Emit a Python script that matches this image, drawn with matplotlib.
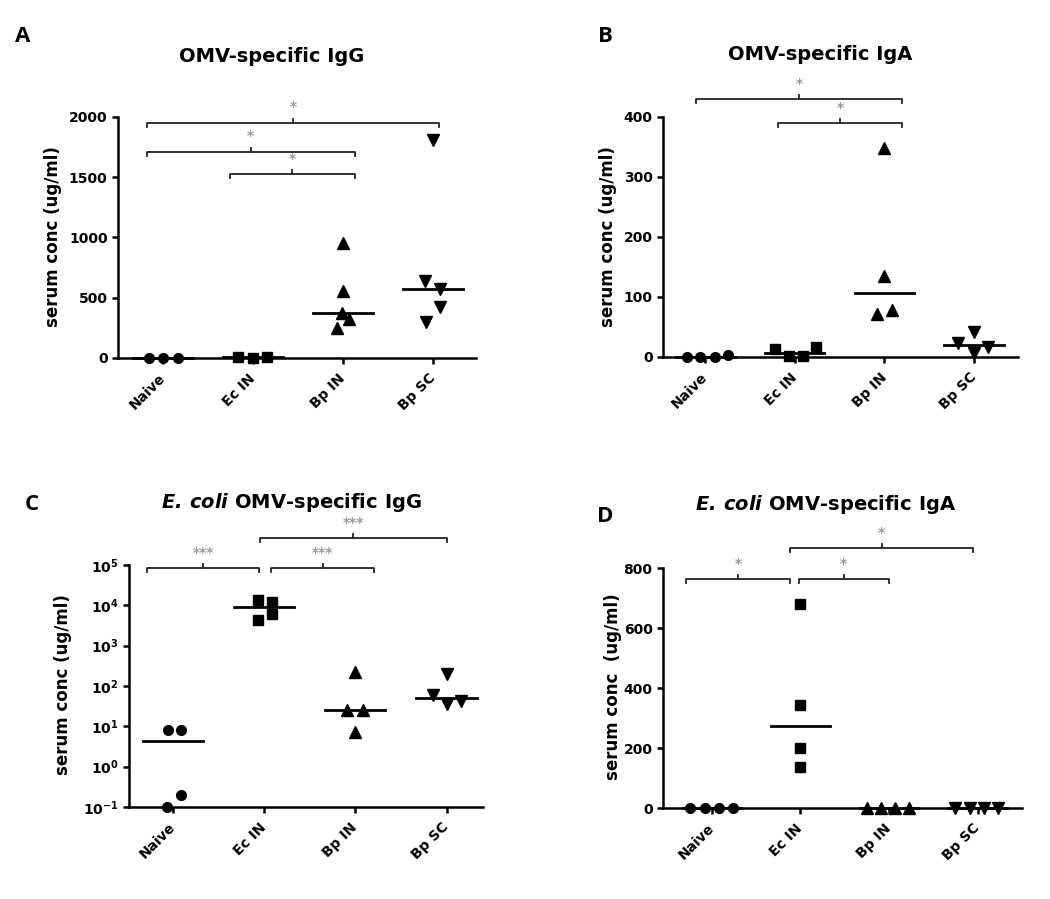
import numpy as np
import matplotlib
matplotlib.use("Agg")
import matplotlib.pyplot as plt
from matplotlib.transforms import blended_transform_factory

plt.rcParams['font.family'] = ['DejaVu Sans']
plt.rcParams['font.weight'] = 'bold'
plt.rcParams['mathtext.fontset'] = 'dejavusans'

groups = ['Naive', 'Ec IN', 'Bp IN', 'Bp SC']
markers = ['o', 's', '^', 'v']

# A - OMV-specific IgG (ug/ml)
igg_naive = [0, 0, 0]
igg_ecin = [8, 3, 10]
igg_bpin = [954, 556, 371, 324, 249]
igg_bpsc = [1809, 640, 570, 420, 300]

# B - OMV-specific IgA
iga_naive = [0, 0, 0, 3]
iga_ecin = [14, 1, 1, 17]
iga_bpin = [349, 135, 71, 79]
iga_bpsc = [42, 23, 7, 17]

# C - E. coli OMV-specific IgG (log)
ec_igg_naive = [8.3, 8.3, 0.2, 0.1]
ec_igg_ecin = [13500, 4300, 12000, 6000]
ec_igg_bpin = [222, 25, 26, 7.2]
ec_igg_bpsc = [202, 58.7, 36.5, 42.5]

# D - E. coli OMV-specific IgA
ec_iga_naive = [0, 0, 0, 0]
ec_iga_ecin = [679, 344, 201, 137]
ec_iga_bpin = [0, 0, 0, 0]
ec_iga_bpsc = [0, 0, 0, 0]

# horizontal spread of the dots inside each column (layout only)
spread_a = [[-0.16, 0, 0.17], [-0.17, 0, 0.16], [0, 0, -0.01, 0.07, -0.07], [0, -0.09, 0.08, 0.08, -0.08]]
spread_b = [[-0.2, -0.06, 0.11, 0.26], [-0.22, -0.06, 0.09, 0.24], [0, 0, -0.08, 0.09], [0, -0.18, 0, 0.15]]
spread_c = [[-0.05, 0.09, 0.09, -0.06], [-0.07, -0.07, 0.09, 0.09], [0, -0.09, 0.08, 0], [0, -0.15, 0, 0.16]]
spread_d = [[-0.24, -0.08, 0.08, 0.24], [0, 0, 0, 0], [-0.25, -0.09, 0.07, 0.22], [-0.26, -0.09, 0.07, 0.23]]

W, H = 1050, 899
fig = plt.figure(figsize=(W / 100, H / 100), dpi=100)


def add_ax(x0, x1, y0, y1):
    return fig.add_axes([x0 / W, 1 - y1 / H, (x1 - x0) / W, (y1 - y0) / H])


def bracket(ax, x1, x2, yf, label, tip=0.017):
    tr = blended_transform_factory(ax.transData, ax.transAxes)
    xm = (x1 + x2) / 2
    ax.plot([x1, x1, x2, x2], [yf - tip, yf, yf, yf - tip], color='#222222', lw=1.3,
            transform=tr, clip_on=False, solid_joinstyle='round')
    ax.plot([xm, xm], [yf, yf + tip], color='#222222', lw=1.3, transform=tr, clip_on=False)
    ax.annotate(label, (xm, yf), xytext=(0, 6), textcoords='offset points', xycoords=tr,
                ha='center', va='bottom', color='#9a9a9a', fontsize=10)


def panel(ax, data, spread, xlim, sizes=(7, 7.5, 8, 8)):
    for i, vals in enumerate(data):
        xs = i + np.array(spread[i])
        ax.plot(xs, vals, ls='none', marker=markers[i], ms=sizes[i], color='black',
                clip_on=False, zorder=4)
        med = np.median(vals)
        ax.plot([i - 0.33, i + 0.33], [med, med], color='black', lw=2, clip_on=False, zorder=3)
    ax.set_xlim(*xlim)
    ax.set_xticks(range(len(groups)))
    ax.set_xticklabels(groups, rotation=45, ha='right', va='center', rotation_mode='anchor',
                       fontsize=11)
    for s in ['top', 'right']:
        ax.spines[s].set_visible(False)
    for s in ['left', 'bottom']:
        ax.spines[s].set_linewidth(1.8)
    ax.tick_params(width=1.8, length=4, labelsize=10)
    ax.tick_params(axis='x', pad=9)
    ax.minorticks_off()


# A
axA = add_ax(118, 476, 117, 358)
panel(axA, [igg_naive, igg_ecin, igg_bpin, igg_bpsc], spread_a, (-0.5, 3.48))
axA.set_ylim(0, 2000)
axA.set_yticks([0, 500, 1000, 1500, 2000])
bracket(axA, -0.18, 3.07, 0.976, '*')
bracket(axA, -0.18, 2.13, 0.856, '*')
bracket(axA, 0.74, 2.13, 0.762, '*')

# B
axB = add_ax(663, 1018, 117, 357)
panel(axB, [iga_naive, iga_ecin, iga_bpin, iga_bpsc], spread_b, (-0.47, 3.49))
axB.set_ylim(0, 400)
axB.set_yticks([0, 100, 200, 300, 400])
bracket(axB, -0.10, 2.2, 1.075, '*')
bracket(axB, 0.81, 2.2, 0.975, '*')

# C
axC = add_ax(129, 483, 565, 807)
panel(axC, [ec_igg_naive, ec_igg_ecin, ec_igg_bpin, ec_igg_bpsc], spread_c, (-0.48, 3.4))
axC.set_yscale('log')
axC.set_ylim(0.1, 1e5)
exps = [-1, 0, 1, 2, 3, 4, 5]
axC.set_yticks([10.0 ** e for e in exps])
axC.set_yticklabels([r'$\mathbf{10^{%d}}$' % e for e in exps])
axC.minorticks_off()
bracket(axC, -0.28, 0.95, 0.988, '***')
bracket(axC, 1.08, 2.21, 0.988, '***')
bracket(axC, 0.96, 3.0, 1.112, '***')

# D
axD = add_ax(663, 1022, 568, 808)
panel(axD, [ec_iga_naive, ec_iga_ecin, ec_iga_bpin, ec_iga_bpsc], spread_d, (-0.55, 3.5))
axD.set_ylim(0, 800)
axD.set_yticks([0, 200, 400, 600, 800])
bracket(axD, -0.29, 0.88, 0.954, '*')
bracket(axD, 0.98, 2.0, 0.954, '*')
bracket(axD, 0.88, 2.95, 1.083, '*')

# titles, y labels, panel letters
tkw = dict(ha='center', va='center', fontsize=14, fontweight='bold')
fig.text(272 / W, 1 - 56 / H, 'OMV-specific IgG', **tkw)
fig.text(820 / W, 1 - 55 / H, 'OMV-specific IgA', **tkw)
fig.text(291 / W, 1 - 503 / H, r'$\mathbfit{E.\,coli}$ OMV-specific IgG', **tkw)
fig.text(826 / W, 1 - 504 / H, r'$\mathbfit{E.\,coli}$ OMV-specific IgA', **tkw)

lkw = dict(ha='center', va='center', rotation=90, fontsize=12, fontweight='bold')
fig.text(53 / W, 1 - 237 / H, 'serum conc (ug/ml)', **lkw)
fig.text(608 / W, 1 - 237 / H, 'serum conc (ug/ml)', **lkw)
fig.text(63 / W, 1 - 685 / H, 'serum conc (ug/ml)', **lkw)
fig.text(613 / W, 1 - 687 / H, 'serum conc  (ug/ml)', **lkw)

pkw = dict(ha='center', va='center', fontsize=16, fontweight='bold', family='Open Sans')
fig.text(23 / W, 1 - 36 / H, 'A', **pkw)
fig.text(605 / W, 1 - 36 / H, 'B', **pkw)
fig.text(32 / W, 1 - 505 / H, 'C', **pkw)
fig.text(605 / W, 1 - 516 / H, 'D', **pkw)

fig.savefig('out.png', dpi=100)
